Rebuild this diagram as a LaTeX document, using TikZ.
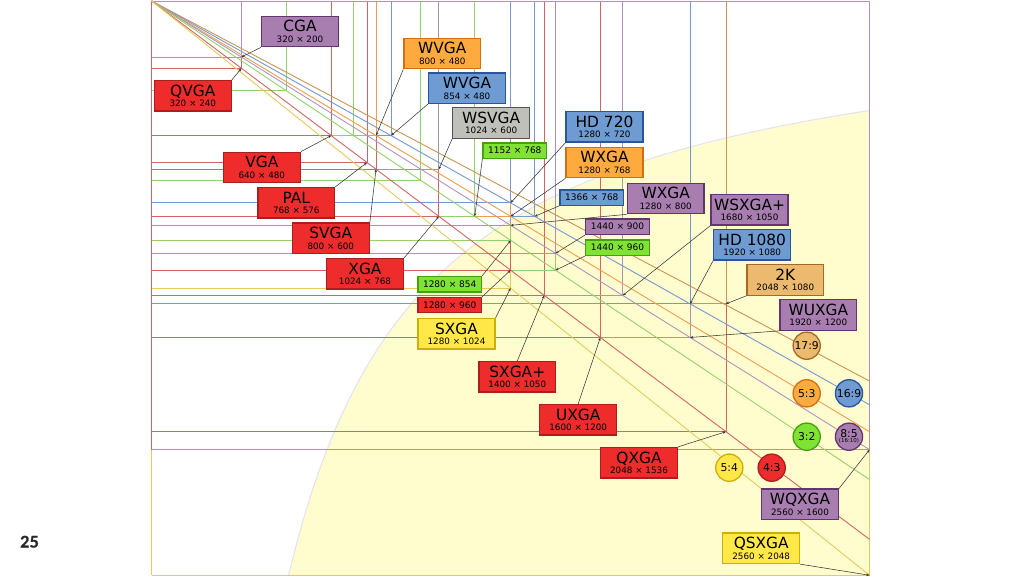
\documentclass[tikz,border=0pt]{standalone}
\usepackage{fontspec}
\setmainfont{DejaVu Sans}
\newfontfamily\pagefont[FakeBold=1.2]{Lato}
\usetikzlibrary{arrows.meta}
\definecolor{bred}{RGB}{238,44,44}
\definecolor{dred}{RGB}{172,30,30}
\definecolor{lred}{RGB}{210,100,100}
\definecolor{bpur}{RGB}{168,126,176}
\definecolor{dpur}{RGB}{100,52,110}
\definecolor{lpur}{RGB}{175,145,188}
\definecolor{borg}{RGB}{255,170,62}
\definecolor{dorg}{RGB}{210,110,20}
\definecolor{lorg}{RGB}{240,158,78}
\definecolor{bblu}{RGB}{110,155,210}
\definecolor{dblu}{RGB}{40,85,155}
\definecolor{lblu}{RGB}{118,152,208}
\definecolor{bgry}{RGB}{192,192,186}
\definecolor{dgry}{RGB}{85,85,85}
\definecolor{lgry}{RGB}{155,155,155}
\definecolor{bgrn}{RGB}{128,226,50}
\definecolor{dgrn}{RGB}{70,160,20}
\definecolor{lgrn}{RGB}{148,208,108}
\definecolor{byel}{RGB}{255,232,72}
\definecolor{dyel}{RGB}{205,175,10}
\definecolor{lyel}{RGB}{228,203,92}
\definecolor{btan}{RGB}{236,186,110}
\definecolor{dtan}{RGB}{165,105,35}
\definecolor{ltan}{RGB}{203,148,82}
\definecolor{zone}{RGB}{255,252,206}
\definecolor{zedge}{RGB}{226,226,245}
\definecolor{conn}{RGB}{55,55,55}
\definecolor{pagegray}{RGB}{40,40,40}
\tikzset{
  boxbig/.style={draw, line width=1.3pt, minimum width=76.8pt, minimum height=30.4pt,
    inner sep=0pt, align=center, font=\fontsize{8.8}{10.4}\selectfont},
  boxsmall/.style={draw, line width=1.3pt, minimum width=63.6pt, minimum height=15.3pt,
    inner sep=0pt, font=\fontsize{9}{10}\selectfont},
  ratio/.style={circle, draw, line width=1.3pt, minimum size=27.2pt, inner sep=0pt,
    font=\fontsize{10.8}{11}\selectfont},
  kred/.style={fill=bred, draw=dred},
  kpur/.style={fill=bpur, draw=dpur},
  korg/.style={fill=borg, draw=dorg},
  kblu/.style={fill=bblu, draw=dblu},
  kgry/.style={fill=bgry, draw=dgry},
  kgrn/.style={fill=bgrn, draw=dgrn},
  kyel/.style={fill=byel, draw=dyel},
  ktan/.style={fill=btan, draw=dtan},
  cn/.style={draw=conn, line width=0.55pt, -{Stealth[length=3.2pt,width=2.6pt]}},
  rl/.style={line width=0.9pt},
  dg/.style={line width=0.9pt},
}
\newcommand\ResTitle[2]{{\fontsize{15.4}{15.4}\selectfont #1}\\#2}
\newcommand\ResLine[3]{\coordinate (p#2x#3) at (#2,#3);\draw[rl,#1] (0,#3) -- (p#2x#3) -- (#2,0);}
\begin{document}
\begin{tikzpicture}[x=1pt,y=-1pt]
\useasboundingbox (0,0) rectangle (1024,576);
\fill[white] (0,0) rectangle (1024,576);
\begin{scope}[shift={(151.7,1)}, x=0.2804pt, y=-0.2804pt]
  \coordinate (o) at (0,0);
  \fill[zone] plot[domain=0.48828:2.56, samples=120, smooth] ({\x*1000},{1000/\x}) -- (2560,2048) -- cycle;
  \draw[zedge, line width=1pt] plot[domain=0.48828:2.56, samples=120, smooth] ({\x*1000},{1000/\x});
  % resolution lines, largest first
  \ResLine{lyel}{2560}{2048}
  \ResLine{lpur}{2560}{1600}
  \ResLine{lred}{2048}{1536}
  \ResLine{ltan}{2048}{1080}
  \ResLine{lpur}{1920}{1200}
  \ResLine{lblu}{1920}{1080}
  \ResLine{lred}{1600}{1200}
  \ResLine{lpur}{1680}{1050}
  \ResLine{lred}{1400}{1050}
  \ResLine{lgrn}{1440}{960}
  \ResLine{lpur}{1440}{900}
  \ResLine{lyel}{1280}{1024}
  \ResLine{lred}{1280}{960}
  \ResLine{lblu}{1366}{768}
  \ResLine{lgrn}{1280}{854}
  \ResLine{lpur}{1280}{800}
  \ResLine{lorg}{1280}{768}
  \ResLine{lblu}{1280}{720}
  \ResLine{lgrn}{1152}{768}
  \ResLine{lred}{1024}{768}
  \ResLine{lgry}{1024}{600}
  \ResLine{lgrn}{960}{640}
  \ResLine{lred}{800}{600}
  \ResLine{lred}{768}{576}
  \ResLine{lblu}{854}{480}
  \ResLine{lorg}{800}{480}
  \ResLine{lgrn}{720}{480}
  \ResLine{lred}{640}{480}
  \ResLine{lgrn}{480}{320}
  \ResLine{lred}{320}{240}
  \ResLine{lpur}{320}{200}
  % frame
  \draw[rl, lpur] (o) -- (2560,0);
  \draw[rl, lred] (o) -- (0,1600);
  \draw[rl, lyel] (0,1600) -- (0,2048);
  % aspect ratio diagonals
  \draw[dg, ltan] (o) -- (2560,1355.3);
  \draw[dg, lblu] (o) -- (2560,1440);
  \draw[dg, lorg] (o) -- (2560,1536);
  \draw[dg, lpur] (o) -- (2560,1600);
  \draw[dg, lgrn] (o) -- (2560,1706.7);
  \draw[dg, lred] (o) -- (2560,1920);
  \draw[dg, lyel] (o) -- (2560,2048);
\end{scope}
% boxes
\node[boxbig,kpur] (cga) at (300,31.5) {\ResTitle{CGA}{320 × 200}};
\node[boxbig,kred] (qvga) at (192.8,95.8) {\ResTitle{QVGA}{320 × 240}};
\node[boxbig,kred] (vga) at (261.8,167.5) {\ResTitle{VGA}{640 × 480}};
\node[boxbig,kred] (pal) at (296.3,202.7) {\ResTitle{PAL}{768 × 576}};
\node[boxbig,kred] (svga) at (330.8,238.3) {\ResTitle{SVGA}{800 × 600}};
\node[boxbig,kred] (xga) at (365,273.8) {\ResTitle{XGA}{1024 × 768}};
\node[boxbig,korg] (wvgaa) at (442.3,53.5) {\ResTitle{WVGA}{800 × 480}};
\node[boxbig,kblu] (wvgab) at (467,88.2) {\ResTitle{WVGA}{854 × 480}};
\node[boxbig,kgry] (wsvga) at (491.2,123) {\ResTitle{WSVGA}{1024 × 600}};
\node[boxsmall,kgrn] (rb1152) at (514.8,150.7) {1152 × 768};
\node[boxbig,kblu] (hd720) at (604.5,126.8) {\ResTitle{HD 720}{1280 × 720}};
\node[boxbig,korg] (wxgaa) at (604.5,162.5) {\ResTitle{WXGA}{1280 × 768}};
\node[boxsmall,kblu] (rb1366) at (591.8,197.5) {1366 × 768};
\node[boxbig,kpur] (wxgab) at (665.7,198.5) {\ResTitle{WXGA}{1280 × 800}};
\node[boxbig,kpur] (wsxgap) at (749.5,209.7) {\ResTitle{WSXGA+}{1680 × 1050}};
\node[boxsmall,kpur] (rb1440a) at (617.5,226.7) {1440 × 900};
\node[boxsmall,kgrn] (rb1440b) at (617.5,247.7) {1440 × 960};
\node[boxbig,kblu] (hd1080) at (752.2,244.8) {\ResTitle{HD 1080}{1920 × 1080}};
\node[boxbig,ktan] (k2) at (785.3,280) {\ResTitle{2K}{2048 × 1080}};
\node[boxbig,kpur] (wuxga) at (818.3,315) {\ResTitle{WUXGA}{1920 × 1200}};
\node[boxsmall,kgrn] (rb1280a) at (449.7,284.2) {1280 × 854};
\node[boxsmall,kred] (rb1280b) at (449.7,305) {1280 × 960};
\node[boxbig,kyel] (sxga) at (456.5,333.7) {\ResTitle{SXGA}{1280 × 1024}};
\node[boxbig,kred] (sxgap) at (517.3,376.8) {\ResTitle{SXGA+}{1400 × 1050}};
\node[boxbig,kred] (uxga) at (578.2,419.8) {\ResTitle{UXGA}{1600 × 1200}};
\node[boxbig,kred] (qxga) at (639,462.7) {\ResTitle{QXGA}{2048 × 1536}};
\node[boxbig,kpur] (wqxga) at (800,504.3) {\ResTitle{WQXGA}{2560 × 1600}};
\node[boxbig,kyel] (qsxga) at (761.2,548.3) {\ResTitle{QSXGA}{2560 × 2048}};
% connectors
\draw[cn] (cga.south west) -- (p320x200);
\draw[cn] (qvga.north east) -- (p320x240);
\draw[cn] (vga.north east) -- (p640x480);
\draw[cn] (pal.north east) -- (p768x576);
\draw[cn] (svga.north east) -- (p800x600);
\draw[cn] (xga.north east) -- (p1024x768);
\draw[cn] (wvgaa.south west) -- (p800x480);
\draw[cn] (wvgab.south west) -- (p854x480);
\draw[cn] (wsvga.south west) -- (p1024x600);
\draw[cn] (rb1152.south west) -- (p1152x768);
\draw[cn] (hd720.south west) -- (p1280x720);
\draw[cn] (wxgaa.south west) -- (p1280x768);
\draw[cn] (rb1366.south west) -- (p1366x768);
\draw[cn] (wxgab.south west) -- (p1280x800);
\draw[cn] (rb1440a.south west) -- (p1440x900);
\draw[cn] (rb1440b.south west) -- (p1440x960);
\draw[cn] (rb1280a.north east) -- (p1280x854);
\draw[cn] (rb1280b.north east) -- (p1280x960);
\draw[cn] (sxga.north east) -- (p1280x1024);
\draw[cn] (sxgap.north) -- (p1400x1050);
\draw[cn] (uxga.north) -- (p1600x1200);
\draw[cn] (qxga.north east) -- (p2048x1536);
\draw[cn] (wqxga.north east) -- (p2560x1600);
\draw[cn] (qsxga.south east) -- (p2560x2048);
\draw[cn] (wsxgap.south west) -- (p1680x1050);
\draw[cn] (hd1080.south west) -- (p1920x1080);
\draw[cn] (k2.south west) -- (p2048x1080);
\draw[cn] (wuxga.south west) -- (p1920x1200);
% ratio circles
\node[ratio,ktan] (c179) at (806.7,345.7) {17:9};
\node[ratio,korg] (c53) at (806.7,393.3) {5:3};
\node[ratio,kblu] (c169) at (849,393.3) {16:9};
\node[ratio,kgrn] (c32) at (806.7,436.7) {3:2};
\node[ratio,kpur,align=center,font=\fontsize{5.5}{5}\selectfont] (c85) at (849,436.7) {{\fontsize{10.8}{10.8}\selectfont 8:5}\\(16:10)};
\node[ratio,kyel] (c54) at (729.3,467.7) {5:4};
\node[ratio,kred] (c43) at (771.7,467.7) {4:3};
% page number
\node[font=\pagefont\bfseries\fontsize{16}{16}\selectfont, text=pagegray, anchor=base west, inner sep=0pt] (pg) at (20,547.5) {25};
\end{tikzpicture}
\end{document}
